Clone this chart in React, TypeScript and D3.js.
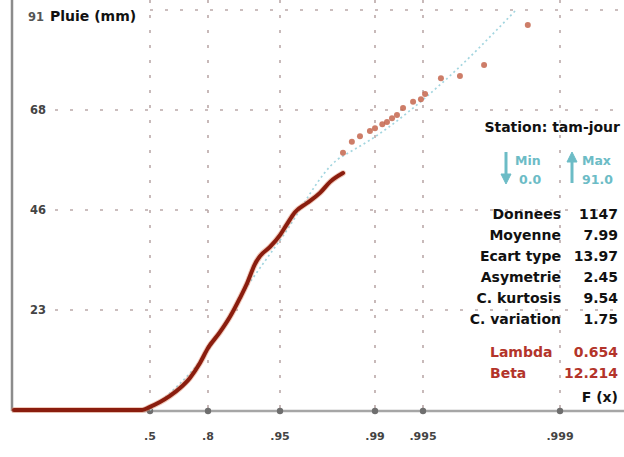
import React from "react";
import * as d3 from "d3";

const W = 624;
const H = 457;

// probability axis (F(x))
const probTicks = [0.5, 0.8, 0.95, 0.99, 0.995, 0.999];
const probLabels = [".5", ".8", ".95", ".99", ".995", ".999"];

// rainfall axis (mm)
const yMax = 91;
const yTicks = [0, 22.75, 45.5, 68.25, 91];
const yLabels = ["", "23", "46", "68", "91"];

// empirical distribution, continuous part
const curveProb = [0.01, 0.48, 0.5, 0.573, 0.635, 0.689, 0.734, 0.773, 0.8, 0.841, 0.869, 0.892, 0.906, 0.919, 0.9265, 0.9394, 0.95, 0.9556, 0.9612, 0.9684, 0.9746, 0.9786, 0.9828];
const curveRain = [0, 0, 0.7, 1.8, 3.2, 5.0, 7.3, 10.7, 14.1, 17.7, 21.2, 25.5, 28.9, 33.2, 35.0, 37.1, 39.8, 42.3, 45.0, 47.1, 49.4, 51.9, 53.9];

// empirical distribution, upper tail points
const tailProb = [0.9828, 0.9852, 0.9871, 0.9891, 0.99, 0.991, 0.99159, 0.99218, 0.99272, 0.99333, 0.99423, 0.99485, 0.99512, 0.99595, 0.99676, 0.99756, 0.99854];
const tailRain = [58.5, 61.0, 62.3, 63.5, 64.1, 65.0, 65.5, 66.4, 67.1, 68.7, 70.1, 70.7, 71.9, 75.5, 76.0, 78.5, 87.6];

// fitted law
const fitProb = [0.5, 0.8, 0.9, 0.952, 0.981, 0.9855, 0.9891, 0.99605, 0.99834];
const fitRain = [0, 13.5, 27, 39.4, 56.9, 59.1, 61.4, 74.6, 91.2];

const statLabels = ["Donnees", "Moyenne", "Ecart type", "Asymetrie", "C. kurtosis", "C. variation"];
const statValues = ["1147", "7.99", "13.97", "2.45", "9.54", "1.75"];
const paramLabels = ["Lambda", "Beta"];
const paramValues = ["0.654", "12.214"];

const FONT = "'DejaVu Sans', Verdana, sans-serif";

// reduced variable for the probability paper
const red = (p: number) => -Math.log(1 - p);

const xRed = d3
  .scaleLinear()
  .domain([0, ...probTicks].map(red))
  .range([12, 150, 208, 280, 375, 423, 560]);
const x = (p: number) => xRed(red(p));
const y = d3.scaleLinear().domain([0, yMax]).range([410, 10]);

export default function App() {
  const curve = curveProb.map((p, i) => [p, curveRain[i]] as [number, number]);
  const fit = fitProb.map((p, i) => [p, fitRain[i]] as [number, number]);
  const line = d3
    .line<[number, number]>()
    .x((d) => x(d[0]))
    .y((d) => y(d[1]))
    .curve(d3.curveMonotoneX);

  const grid = "#bba9a9";
  const teal = "#6cbcc6";
  const red2 = "#b3342a";

  return (
    <svg
      width={W}
      height={H}
      style={{ position: "absolute", left: 0, top: 0, background: "#fff" }}
      fontFamily={FONT}
      fontWeight="bold"
    >
      {/* grid */}
      {yTicks.slice(1).map((t, i) => (
        <line
          key={"hg" + i}
          x1={t === yMax ? 150 : 55}
          x2={W}
          y1={y(t)}
          y2={y(t)}
          stroke={grid}
          strokeWidth={1.6}
          strokeDasharray="3,12"
        />
      ))}
      {probTicks.map((p, i) => (
        <line
          key={"vg" + i}
          x1={x(p)}
          x2={x(p)}
          y1={0}
          y2={y(0)}
          stroke={grid}
          strokeWidth={1.6}
          strokeDasharray="3,12"
        />
      ))}

      {/* axes */}
      <line x1={12} x2={12} y1={0} y2={y(0) + 1} stroke="#8c8c8c" strokeWidth={2.5} />
      <line x1={12} x2={W} y1={y(0) + 1} y2={y(0) + 1} stroke="#a6a6a6" strokeWidth={2.5} />
      {probTicks.map((p, i) => (
        <circle key={"td" + i} cx={x(p)} cy={y(0) + 1} r={3.2} fill="#6e6e6e" />
      ))}
      {probTicks.map((p, i) => (
        <text key={"tl" + i} x={x(p)} y={440} textAnchor="middle" fontSize={11} fill="#444">
          {probLabels[i]}
        </text>
      ))}
      {yTicks.map((t, i) =>
        yLabels[i] && t !== yMax ? (
          <text key={"yl" + i} x={38} y={y(t) + 4} textAnchor="middle" fontSize={11.5} fill="#444">
            {yLabels[i]}
          </text>
        ) : null
      )}
      <text x={36} y={21} textAnchor="middle" fontSize={11.5} fill="#555">
        {yLabels[yLabels.length - 1]}
      </text>
      <text x={50} y={21} fontSize={14} fill="#111">
        Pluie (mm)
      </text>

      {/* fitted law */}
      <path d={line(fit) || ""} fill="none" stroke="#a3d5df" strokeWidth={1.7} strokeDasharray="2,3" />

      {/* empirical distribution */}
      <path d={line(curve) || ""} fill="none" stroke="#e08a6a" strokeWidth={6} strokeOpacity={0.45} strokeLinejoin="round" strokeLinecap="round" />
      <path d={line(curve) || ""} fill="none" stroke="#8a1d0e" strokeWidth={4} strokeLinejoin="round" strokeLinecap="round" />
      {tailProb.map((p, i) => (
        <circle key={"tp" + i} cx={x(p)} cy={y(tailRain[i])} r={3} fill="#c4664e" fillOpacity={0.85} />
      ))}

      {/* station block */}
      <text x={620} y={132} textAnchor="end" fontSize={14} fill="#111">
        Station: tam-jour
      </text>
      <g fill={teal} stroke={teal}>
        <line x1={506} x2={506} y1={152} y2={177} strokeWidth={3} />
        <path d="M501,174 L511,174 L506,184 Z" strokeWidth={1} />
        <line x1={572} x2={572} y1={160} y2={183} strokeWidth={3} />
        <path d="M567,162 L577,162 L572,152 Z" strokeWidth={1} />
      </g>
      <g fill={teal} fontSize={12.5}>
        <text x={515} y={165}>Min</text>
        <text x={519} y={184}>0.0</text>
        <text x={582} y={165}>Max</text>
        <text x={582} y={184}>91.0</text>
      </g>

      {statLabels.map((s, i) => (
        <g key={"st" + i} fontSize={14} fill="#111">
          <text x={561} y={219 + i * 21} textAnchor="end">
            {s}
          </text>
          <text x={618} y={219 + i * 21} textAnchor="end">
            {statValues[i]}
          </text>
        </g>
      ))}
      {paramLabels.map((s, i) => (
        <g key={"pm" + i} fontSize={14} fill={red2}>
          <text x={490} y={357 + i * 21}>{s}</text>
          <text x={618} y={357 + i * 21} textAnchor="end">
            {paramValues[i]}
          </text>
        </g>
      ))}
      <text x={618} y={402} textAnchor="end" fontSize={14} fill="#111">
        F (x)
      </text>
    </svg>
  );
}
